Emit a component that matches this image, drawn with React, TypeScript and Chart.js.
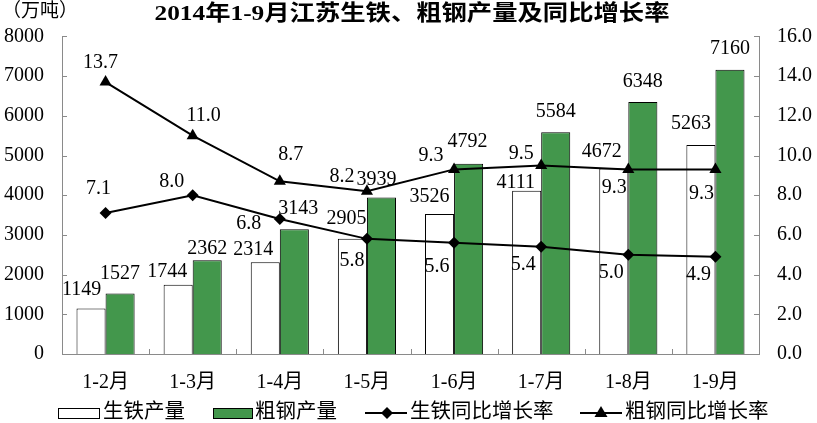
import React, { useEffect, useRef } from "react";
import { Chart, registerables } from "chart.js";

Chart.register(...registerables);

// ---- data ----
const categories = ["1-2月", "1-3月", "1-4月", "1-5月", "1-6月", "1-7月", "1-8月", "1-9月"];
const ironOutput = [1149, 1744, 2314, 2905, 3526, 4111, 4672, 5263];
const steelOutput = [1527, 2362, 3143, 3939, 4792, 5584, 6348, 7160];
const ironGrowth = [7.1, 8.0, 6.8, 5.8, 5.6, 5.4, 5.0, 4.9];
const steelGrowth = [13.7, 11.0, 8.7, 8.2, 9.3, 9.5, 9.3, 9.3];
const leftMax = 8000;
const leftStep = 1000;
const rightMax = 16;
const rightStep = 2;

const titleText = "2014年1-9月江苏生铁、粗钢产量及同比增长率";
const unitText = "（万吨）";
const seriesNames = ["生铁产量", "粗钢产量", "生铁同比增长率", "粗钢同比增长率"];

// ---- label placement (pixel offsets from each mark) ----
const ironOutputLabelOffsets = [[-9.5, -18.5], [-11, -13], [-12, -12], [-6, -20], [-10, -17], [-11, -8], [-12, -17], [-10, -21]];
const steelOutputLabelOffsets = [[0, -20], [0, -11], [4, -20], [-5, -18], [-1, -22], [0, -21], [0, -20], [0, -21]];
const ironGrowthLabelOffsets = [[-7, -24], [-21, -13], [-31, 5], [-15, 22], [-17, 24], [-18, 18], [-17, 18], [-17, 18]];
const steelGrowthLabelOffsets = [[-5, -19], [11, -20], [11, -27], [-25, -14], [-23, -14], [-20, -12], [-14, 18], [-14, 24]];

// ---- styles ----
const GREEN = "rgb(67,151,76)";
const AXIS_GRAY = "#8a8a8a";
const SERIF = "'Liberation Serif', 'Times New Roman', 'Noto Sans CJK SC', serif";
const W = 817;
const H = 423;

const labelsPlugin = {
  id: "customLabels",
  afterDatasetsDraw(chart: any) {
    const ctx = chart.ctx;
    ctx.save();
    ctx.fillStyle = "#000";
    ctx.font = `20px ${SERIF}`;
    ctx.textAlign = "center";
    ctx.textBaseline = "middle";
    const sets = [
      { idx: 0, vals: ironOutput, offs: ironOutputLabelOffsets, fmt: (v: number) => String(v) },
      { idx: 1, vals: steelOutput, offs: steelOutputLabelOffsets, fmt: (v: number) => String(v) },
      { idx: 2, vals: ironGrowth, offs: ironGrowthLabelOffsets, fmt: (v: number) => v.toFixed(1) },
      { idx: 3, vals: steelGrowth, offs: steelGrowthLabelOffsets, fmt: (v: number) => v.toFixed(1) },
    ];
    for (const s of sets) {
      const meta = chart.getDatasetMeta(s.idx);
      meta.data.forEach((el: any, j: number) => {
        const [dx, dy] = s.offs[j];
        ctx.fillText(s.fmt(s.vals[j]), el.x + dx, el.y + dy);
      });
    }
    ctx.restore();
  },
};

const decorPlugin = {
  id: "decor",
  beforeDatasetsDraw(chart: any) {
    const ctx = chart.ctx;
    const { left, right, bottom } = chart.chartArea;
    const y = chart.scales.y;
    const y1 = chart.scales.y1;
    ctx.save();
    ctx.strokeStyle = AXIS_GRAY;
    ctx.lineWidth = 1;
    ctx.beginPath();
    for (let v = 0; v <= leftMax; v += leftStep) {
      const py = Math.round(y.getPixelForValue(v)) + 0.5;
      ctx.moveTo(left, py);
      ctx.lineTo(left + 5, py);
    }
    for (let v = 0; v <= rightMax; v += rightStep) {
      const py = Math.round(y1.getPixelForValue(v)) + 0.5;
      ctx.moveTo(right - 5, py);
      ctx.lineTo(right, py);
    }
    const n = categories.length;
    for (let i = 1; i < n; i++) {
      const px = Math.round(left + (i * (right - left)) / n) + 0.5;
      ctx.moveTo(px, bottom);
      ctx.lineTo(px, bottom - 5);
    }
    ctx.stroke();
    ctx.restore();
  },
  afterDraw(chart: any) {
    const ctx = chart.ctx;
    ctx.save();
    // unit label
    ctx.fillStyle = "#000";
    ctx.textBaseline = "middle";
    ctx.textAlign = "left";
    ctx.font = `19px ${SERIF}`;
    ctx.fillText(unitText, 2, 12);
    // title
    ctx.font = `bold 22px ${SERIF}`;
    ctx.textAlign = "center";
    const tw = ctx.measureText(titleText).width;
    const target = 515;
    ctx.save();
    ctx.translate(412, 14);
    ctx.scale(target / tw, 1);
    ctx.fillText(titleText, 0, 0);
    ctx.restore();

    // legend
    const ly = 413;
    ctx.font = `20.5px ${SERIF}`;
    ctx.textAlign = "left";
    ctx.lineWidth = 1;
    ctx.strokeStyle = "#000";
    ctx.fillStyle = "#fff";
    ctx.fillRect(58.5, 408.5, 41, 10);
    ctx.strokeRect(58.5, 408.5, 41, 10);
    ctx.fillStyle = "#000";
    ctx.fillText(seriesNames[0], 103, ly);
    ctx.fillStyle = GREEN;
    ctx.fillRect(213.5, 408.5, 39, 10);
    ctx.strokeRect(213.5, 408.5, 39, 10);
    ctx.fillStyle = "#000";
    ctx.fillText(seriesNames[1], 255, ly);
    // line with diamond
    ctx.lineWidth = 2;
    ctx.beginPath();
    ctx.moveTo(365, ly);
    ctx.lineTo(407, ly);
    ctx.stroke();
    ctx.beginPath();
    ctx.moveTo(387, ly - 6);
    ctx.lineTo(393, ly);
    ctx.lineTo(387, ly + 6);
    ctx.lineTo(381, ly);
    ctx.closePath();
    ctx.fill();
    ctx.fillText(seriesNames[2], 410, ly);
    // line with triangle
    ctx.beginPath();
    ctx.moveTo(580, ly);
    ctx.lineTo(622, ly);
    ctx.stroke();
    ctx.beginPath();
    ctx.moveTo(601, ly - 7);
    ctx.lineTo(607.5, ly + 4);
    ctx.lineTo(594.5, ly + 4);
    ctx.closePath();
    ctx.fill();
    ctx.fillText(seriesNames[3], 625, ly);
    ctx.restore();
  },
};

export default function App() {
  const canvasRef = useRef<HTMLCanvasElement | null>(null);

  useEffect(() => {
    if (!canvasRef.current) return;
    const chart = new Chart(canvasRef.current, {
      type: "bar",
      data: {
        labels: categories,
        datasets: [
          {
            type: "bar",
            label: seriesNames[0],
            data: ironOutput,
            backgroundColor: "#ffffff",
            borderColor: "#000000",
            borderWidth: 1,
            yAxisID: "y",
            categoryPercentage: 0.667,
            barPercentage: 1.0,
            order: 2,
          },
          {
            type: "bar",
            label: seriesNames[1],
            data: steelOutput,
            backgroundColor: GREEN,
            borderColor: "#000000",
            borderWidth: 1,
            yAxisID: "y",
            categoryPercentage: 0.667,
            barPercentage: 1.0,
            order: 2,
          },
          {
            type: "line",
            label: seriesNames[2],
            data: ironGrowth,
            borderColor: "#000",
            borderWidth: 2,
            backgroundColor: "#000",
            pointStyle: "rectRot",
            pointRadius: 6,
            pointBackgroundColor: "#000",
            pointBorderWidth: 0,
            tension: 0,
            yAxisID: "y1",
            order: 0,
          },
          {
            type: "line",
            label: seriesNames[3],
            data: steelGrowth,
            borderColor: "#000",
            borderWidth: 2,
            backgroundColor: "#000",
            pointStyle: "triangle",
            pointRadius: 7,
            pointBackgroundColor: "#000",
            pointBorderWidth: 0,
            tension: 0,
            yAxisID: "y1",
            order: 0,
          },
        ] as any,
      },
      options: {
        responsive: false,
        animation: false,
        layout: { padding: { top: 36.4, left: 0, right: 0, bottom: 0 } },
        plugins: {
          legend: { display: false },
          title: { display: false },
          tooltip: { enabled: false },
        },
        scales: {
          x: {
            grid: { display: false, drawTicks: false },
            border: { display: true, color: AXIS_GRAY, width: 1 },
            ticks: { color: "#000", font: { size: 20, family: SERIF }, padding: 17 },
            afterFit(scale: any) {
              scale.height = H - 354;
            },
          },
          y: {
            position: "left",
            min: 0,
            max: leftMax,
            grid: { display: false, drawTicks: false },
            border: { display: true, color: AXIS_GRAY, width: 1 },
            ticks: {
              stepSize: leftStep,
              color: "#000",
              font: { size: 20, family: SERIF },
              padding: 18,
              callback: (v: any) => String(v),
            },
            afterFit(scale: any) {
              scale.width = 62;
            },
          },
          y1: {
            position: "right",
            min: 0,
            max: rightMax,
            grid: { display: false, drawTicks: false },
            border: { display: true, color: AXIS_GRAY, width: 1 },
            ticks: {
              stepSize: rightStep,
              color: "#000",
              font: { size: 20, family: SERIF },
              padding: 18,
              callback: (v: any) => Number(v).toFixed(1),
            },
            afterFit(scale: any) {
              scale.width = W - 759;
            },
          },
        },
      } as any,
      plugins: [decorPlugin, labelsPlugin],
    });
    return () => chart.destroy();
  }, []);

  return (
    <div style={{ position: "fixed", left: 0, top: 0, width: W, height: H, background: "#fff" }}>
      <canvas ref={canvasRef} width={W} height={H} style={{ display: "block", width: W, height: H }} />
    </div>
  );
}
